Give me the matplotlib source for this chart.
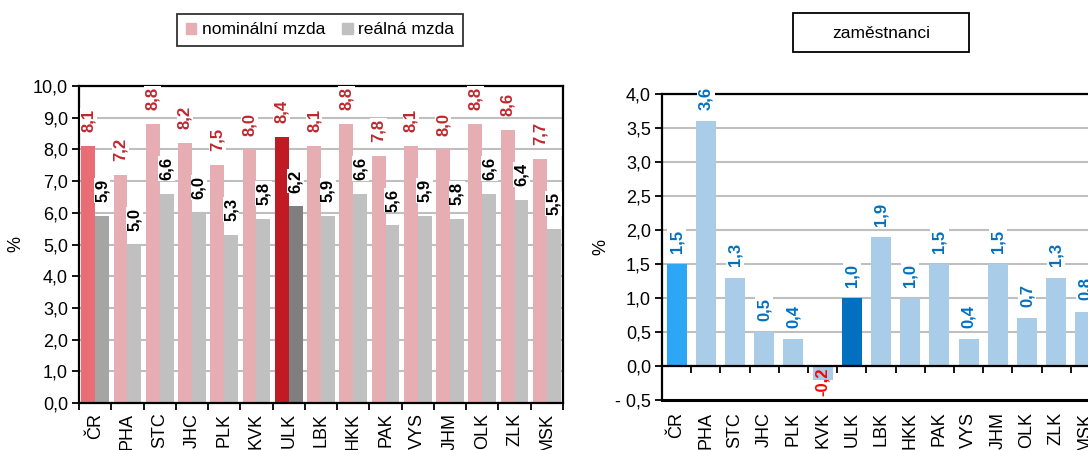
import numpy as np
import matplotlib
matplotlib.use('Agg')
import matplotlib.pyplot as plt
from matplotlib.patches import Rectangle, Patch
from matplotlib.ticker import FuncFormatter, MultipleLocator, FixedLocator

plt.rcParams['font.family'] = ['Liberation Sans', 'DejaVu Sans']

# data
kraje = ['ČR', 'PHA', 'STC', 'JHC', 'PLK', 'KVK', 'ULK', 'LBK', 'HKK',
         'PAK', 'VYS', 'JHM', 'OLK', 'ZLK', 'MSK']
nominalni = [8.1, 7.2, 8.8, 8.2, 7.5, 8.0, 8.4, 8.1, 8.8, 7.8, 8.1, 8.0, 8.8, 8.6, 7.7]
realna = [5.9, 5.0, 6.6, 6.0, 5.3, 5.8, 6.2, 5.9, 6.6, 5.6, 5.9, 5.8, 6.6, 6.4, 5.5]
zamestnanci = [1.5, 3.6, 1.3, 0.5, 0.4, -0.2, 1.0, 1.9, 1.0, 1.5, 0.4, 1.5, 0.7, 1.3, 0.8]

# highlighted categories
i_cr = 0
i_ulk = 6

def fmt(v, pos=None):
    s = '%.1f' % v
    s = s.replace('.', ',')
    if s.startswith('-'):
        s = '- ' + s[1:]
    return s

def fmt_lab(v):
    return ('%.1f' % v).replace('.', ',')

fig = plt.figure(figsize=(10.88, 4.5), dpi=100)

x = np.arange(len(kraje))
grid_c = '#BFBFBF'
lab_fs = 12
tick_fs = 13

# ---------- left chart: mzdy ----------
ax1 = fig.add_axes([79/1088, 47/450, 484/1088, 317/450])
w = 0.43
c_nom = ['#E6AEB2'] * len(kraje)
c_nom[i_cr] = '#E96D75'
c_nom[i_ulk] = '#C01B25'
c_real = ['#C0C0C0'] * len(kraje)
c_real[i_cr] = '#A5A5A5'
c_real[i_ulk] = '#7F7F7F'

ax1.bar(x - w/2, nominalni, w, color=c_nom, zorder=2)
ax1.bar(x + w/2, realna, w, color=c_real, zorder=2)

for i in range(len(kraje)):
    ax1.annotate(fmt_lab(nominalni[i]), (x[i] - w/2, nominalni[i]), xytext=(0, 10),
                 textcoords='offset points', rotation=90, ha='center', va='bottom',
                 fontsize=lab_fs, fontweight='bold', color='#C0272D', zorder=5,
                 bbox=dict(boxstyle='square,pad=0.05', fc='white', ec='none'))
    ax1.annotate(fmt_lab(realna[i]), (x[i] + w/2, realna[i]), xytext=(0, 10),
                 textcoords='offset points', rotation=90, ha='center', va='bottom',
                 fontsize=lab_fs, fontweight='bold', color='black', zorder=5,
                 bbox=dict(boxstyle='square,pad=0.05', fc='white', ec='none'))

ax1.set_xlim(-0.5, len(kraje) - 0.5)
ax1.set_ylim(0, 10)
ax1.yaxis.set_major_locator(MultipleLocator(1))
ax1.yaxis.set_major_formatter(FuncFormatter(fmt))
ax1.grid(axis='y', color=grid_c, lw=1.5, zorder=0)
ax1.set_axisbelow(True)
ax1.set_xticks(x)
ax1.set_xticklabels(kraje, rotation=90, fontsize=tick_fs)
ax1.xaxis.set_minor_locator(FixedLocator(np.arange(-0.5, len(kraje), 1)))
ax1.tick_params(axis='x', which='major', length=0, pad=7)
ax1.tick_params(axis='x', which='minor', length=5, width=1.3, direction='out')
ax1.tick_params(axis='y', length=5, width=1.3, labelsize=tick_fs, pad=3)
for s in ax1.spines.values():
    s.set_linewidth(1.6)
    s.set_color('black')
ax1.set_ylabel('%', fontsize=tick_fs, labelpad=6)

# ---------- right chart: zamestnanci ----------
ax2 = fig.add_axes([662/1088, 50/450, 438/1088, 306/450])
c_z = ['#A9CDE8'] * len(kraje)
c_z[i_cr] = '#2EA6F6'
c_z[i_ulk] = '#0070BF'
ax2.bar(x, zamestnanci, 0.68, color=c_z, zorder=2)

for i, v in enumerate(zamestnanci):
    if v >= 0:
        ax2.annotate(fmt_lab(v), (x[i], v), xytext=(0, 8), textcoords='offset points',
                     rotation=90, ha='center', va='bottom', fontsize=lab_fs,
                     fontweight='bold', color='#0070C0', zorder=5,
                     bbox=dict(boxstyle='square,pad=0.1', fc='white', ec='none'))
    else:
        ax2.annotate(fmt_lab(v), (x[i], 0), xytext=(0, -1), textcoords='offset points',
                     rotation=90, ha='center', va='top', fontsize=lab_fs,
                     fontweight='bold', color='#FF0000', zorder=5)

ax2.set_xlim(-0.5, len(kraje) - 0.5)
ax2.set_ylim(-0.5, 4)
ax2.yaxis.set_major_locator(MultipleLocator(0.5))
ax2.yaxis.set_major_formatter(FuncFormatter(fmt))
ax2.grid(axis='y', color=grid_c, lw=1.5, zorder=0)
ax2.set_axisbelow(True)
ax2.spines['bottom'].set_position(('data', 0))
ax2.axhline(-0.5, color='black', lw=2.2, clip_on=False, zorder=3)
ax2.set_xticks(x)
ax2.set_xticklabels(kraje, rotation=90, fontsize=tick_fs)
ax2.xaxis.set_minor_locator(FixedLocator(np.arange(0.5, len(kraje), 1)))
ax2.tick_params(axis='x', which='major', length=0, pad=33)
ax2.tick_params(axis='x', which='minor', length=5, width=1.3, direction='out')
ax2.tick_params(axis='y', length=5, width=1.3, labelsize=tick_fs, pad=3)
for s in ax2.spines.values():
    s.set_linewidth(1.6)
    s.set_color('black')
ax2.set_ylabel('%', fontsize=tick_fs, labelpad=4)

# ---------- legend and title box ----------
leg = fig.legend(handles=[Patch(color='#E6AEB2', label='nominální mzda'),
                          Patch(color='#C0C0C0', label='reálná mzda')],
                 loc='center', bbox_to_anchor=(320/1088, 1 - 30/450), ncol=2,
                 fontsize=12.5, frameon=True, fancybox=False, edgecolor='black',
                 handlelength=0.6, handleheight=0.6, handletextpad=0.3,
                 columnspacing=1.0, borderpad=0.5)
leg.get_frame().set_linewidth(1.3)

fig.add_artist(Rectangle((793/1088, 1 - 52/450), 176/1088, 39/450,
                         transform=fig.transFigure, fill=False, ec='black', lw=1.3))
fig.text(881/1088, 1 - 33/450, 'zaměstnanci', ha='center', va='center', fontsize=12.5)

fig.savefig('out.png', dpi=100)
